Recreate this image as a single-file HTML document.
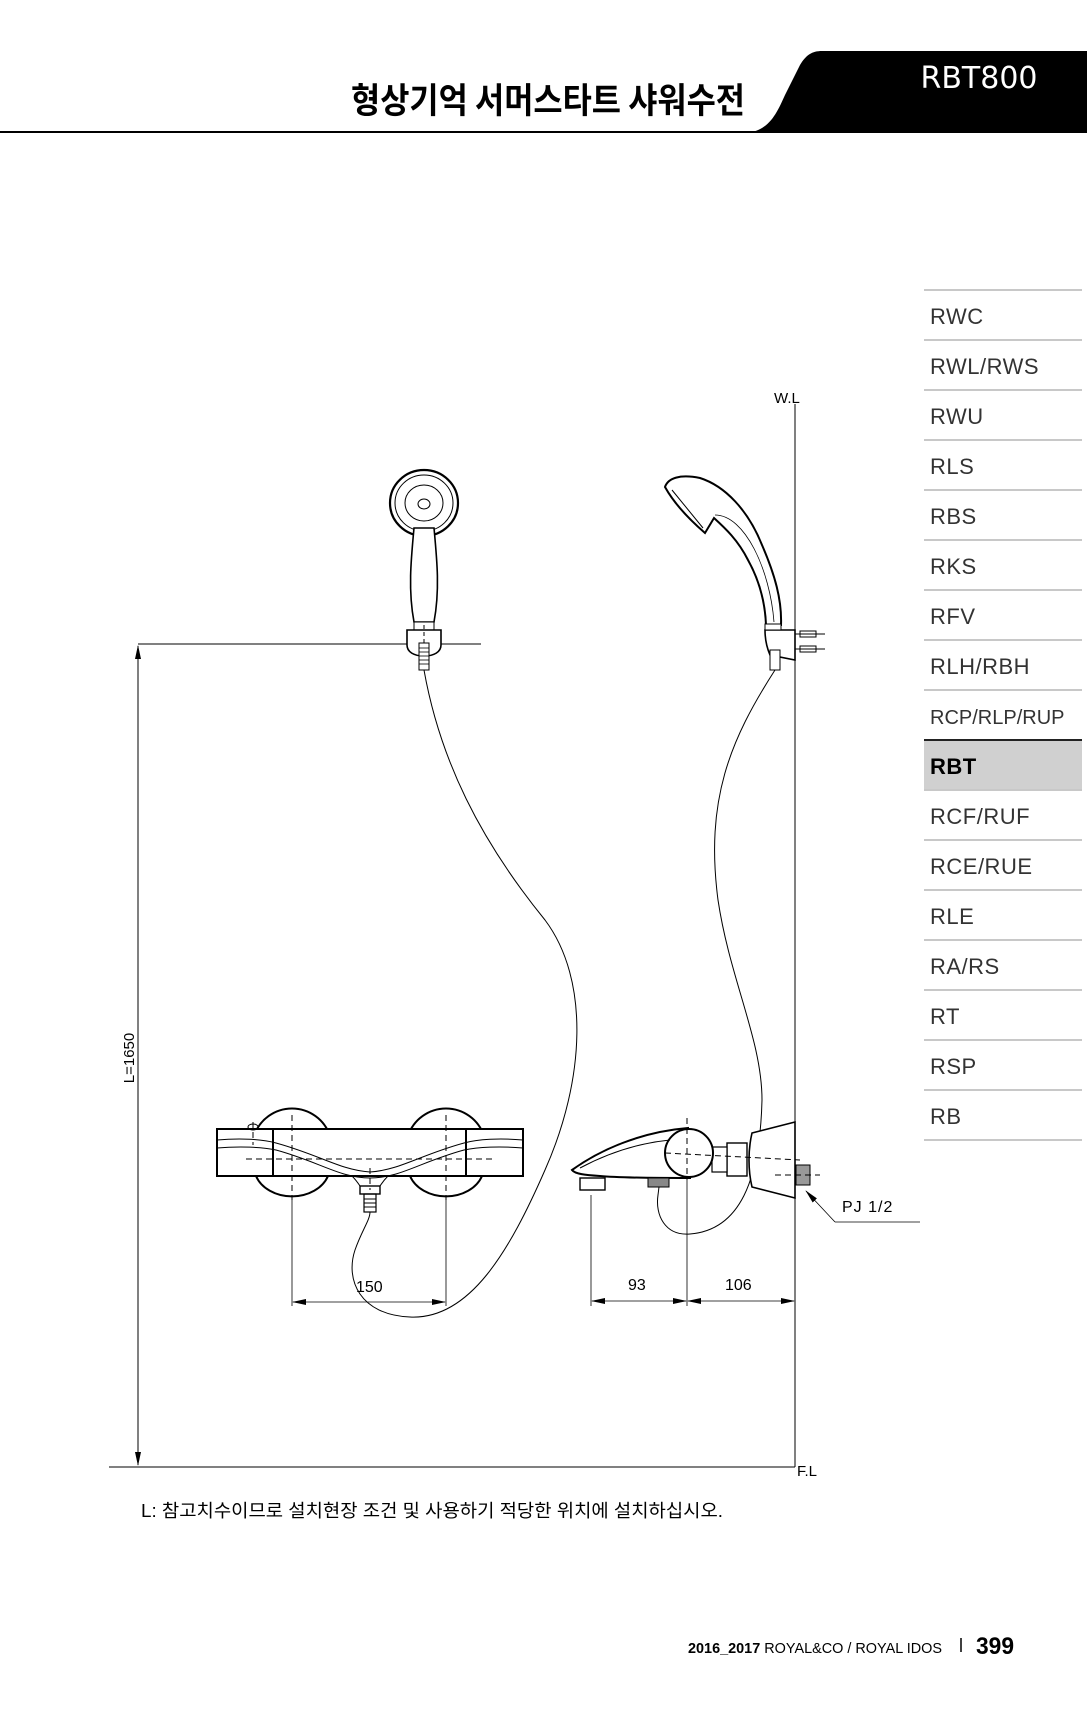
<!DOCTYPE html>
<html><head><meta charset="utf-8"><style>
html,body{margin:0;padding:0;background:#fff;}
svg{display:block;}
</style></head><body>
<svg width="1087" height="1713" viewBox="0 0 1087 1713" xmlns="http://www.w3.org/2000/svg" font-family="'Liberation Sans','Noto Sans CJK KR',sans-serif">
<defs>
<marker id="ar" markerWidth="14" markerHeight="8" refX="13" refY="4" orient="auto" markerUnits="userSpaceOnUse"><path d="M0,1 L14,4 L0,7 Z" fill="#000"/></marker>
<marker id="al" markerWidth="14" markerHeight="8" refX="1" refY="4" orient="auto" markerUnits="userSpaceOnUse"><path d="M14,1 L0,4 L14,7 Z" fill="#000"/></marker>
</defs>
<!-- header -->
<line x1="0" y1="132" x2="760" y2="132" stroke="#000" stroke-width="2"/>
<path d="M742,133 C768,133 776,115 785,95 L800,65 C806,55 812,51 822,51 L1087,51 L1087,133 Z" fill="#000"/>
<text x="351" y="113" textLength="394" lengthAdjust="spacingAndGlyphs" font-size="35" font-weight="bold" font-family="'Noto Sans CJK KR',sans-serif" fill="#000">형상기억 서머스타트 샤워수전</text>
<text x="979" y="88" text-anchor="middle" font-size="30" fill="#fff" font-family="'DejaVu Sans','Liberation Sans',sans-serif">RBT800</text>
<!-- sidebar -->
<rect x="924" y="740" width="158" height="50" fill="#d0d0d0"/>
<g stroke="#c8c8c8" stroke-width="2">
<line x1="924" y1="290" x2="1082" y2="290"/><line x1="924" y1="340" x2="1082" y2="340"/><line x1="924" y1="390" x2="1082" y2="390"/><line x1="924" y1="440" x2="1082" y2="440"/><line x1="924" y1="490" x2="1082" y2="490"/><line x1="924" y1="540" x2="1082" y2="540"/><line x1="924" y1="590" x2="1082" y2="590"/><line x1="924" y1="640" x2="1082" y2="640"/><line x1="924" y1="690" x2="1082" y2="690"/><line x1="924" y1="790" x2="1082" y2="790"/><line x1="924" y1="840" x2="1082" y2="840"/><line x1="924" y1="890" x2="1082" y2="890"/><line x1="924" y1="940" x2="1082" y2="940"/><line x1="924" y1="990" x2="1082" y2="990"/><line x1="924" y1="1040" x2="1082" y2="1040"/><line x1="924" y1="1090" x2="1082" y2="1090"/><line x1="924" y1="1140" x2="1082" y2="1140"/>
</g>
<line x1="924" y1="740" x2="1082" y2="740" stroke="#222" stroke-width="2"/>
<g font-size="22" fill="#333" letter-spacing="0.5">
<text x="930" y="324">RWC</text><text x="930" y="374">RWL/RWS</text><text x="930" y="424">RWU</text><text x="930" y="474">RLS</text><text x="930" y="524">RBS</text><text x="930" y="574">RKS</text><text x="930" y="624">RFV</text><text x="930" y="674">RLH/RBH</text><text x="930" y="724" font-size="20" letter-spacing="0">RCP/RLP/RUP</text><text x="930" y="774" font-weight="bold" fill="#000">RBT</text><text x="930" y="824">RCF/RUF</text><text x="930" y="874">RCE/RUE</text><text x="930" y="924">RLE</text><text x="930" y="974">RA/RS</text><text x="930" y="1024">RT</text><text x="930" y="1074">RSP</text><text x="930" y="1124">RB</text>
</g>
<!-- wall / floor -->
<g stroke="#000" fill="none" stroke-width="1">
<line x1="795" y1="404" x2="795" y2="1467"/>
<line x1="109" y1="1467" x2="795" y2="1467"/>
<line x1="138" y1="644" x2="481" y2="644"/>
<line x1="138" y1="646" x2="138" y2="1465" marker-start="url(#al)" marker-end="url(#ar)"/>
</g>
<text x="774" y="403" font-size="15">W.L</text>
<text x="797" y="1476" font-size="15">F.L</text>
<text transform="translate(134,1058) rotate(-90)" text-anchor="middle" font-size="15">L=1650</text>
<!-- left hand shower -->
<g stroke="#000" fill="#fff" stroke-width="1.6">
<ellipse cx="424" cy="503" rx="34" ry="33" stroke-width="2.2"/>
<ellipse cx="424" cy="503" rx="29" ry="28" stroke-width="1"/>
<ellipse cx="424" cy="503" rx="19" ry="18" stroke-width="1"/>
<ellipse cx="424" cy="504" rx="6" ry="5" stroke-width="1"/>
<path d="M414,528 C411,560 408,590 414,622 L434,622 C440,590 437,560 434,528 Z"/>
<rect x="414" y="622" width="20" height="8" stroke-width="1"/>
<path d="M407,630 L441,630 L441,645 C441,652 434,656 424,656 C414,656 407,652 407,645 Z"/>
<rect x="419" y="643" width="10" height="27" stroke-width="1"/>
</g>
<g stroke="#000" stroke-width="0.8"><line x1="419" y1="648" x2="429" y2="648"/><line x1="419" y1="652" x2="429" y2="652"/><line x1="419" y1="656" x2="429" y2="656"/><line x1="419" y1="660" x2="429" y2="660"/><line x1="419" y1="664" x2="429" y2="664"/></g>
<line x1="424" y1="625" x2="424" y2="645" stroke="#000" stroke-dasharray="4,3"/>
<!-- right hand shower -->
<g stroke="#000" fill="#fff" stroke-width="2">
<path d="M665,487 C668,478 680,474 700,478 C725,486 748,510 762,545 C775,575 782,600 781,625 L766,625 C765,600 758,578 748,560 C738,540 725,528 714,518 L705,533 C690,520 675,505 665,487 Z"/>
<path d="M765,630 L795,630 L795,660 L770,655 C767,648 765,640 765,630 Z" stroke-width="1.6"/>
<rect x="765" y="624" width="16" height="6" stroke-width="1"/>
<rect x="770" y="650" width="10" height="20" stroke-width="1"/>
</g>
<path d="M672,490 L703,528" stroke="#000" stroke-width="1" fill="none"/>
<path d="M715,515 C745,515 770,570 774,622" stroke="#000" stroke-width="0.8" fill="none"/>
<g stroke="#000" stroke-width="1" fill="none"><line x1="795" y1="634" x2="825" y2="634"/><line x1="795" y1="649" x2="825" y2="649"/><rect x="800" y="631" width="16" height="6"/><rect x="800" y="646" width="16" height="6"/></g>
<!-- hoses -->
<path d="M424,670 C440,760 480,840 545,920 C590,980 585,1080 545,1170 C510,1250 470,1320 410,1317 C360,1315 345,1280 355,1250 C362,1230 370,1220 370,1212" stroke="#000" fill="none" stroke-width="1"/>
<path d="M775,670 C730,740 705,800 718,900 C730,980 762,1040 762,1100 C760,1180 740,1230 690,1234 C665,1236 655,1215 658,1195 L659,1187" stroke="#000" fill="none" stroke-width="1"/>
<!-- front view body -->
<g stroke="#000" fill="#fff" stroke-width="2">
<path d="M254,1136 A40,40 0 0 1 330,1136"/>
<path d="M408,1136 A40,40 0 0 1 484,1136"/>
<path d="M256,1176 A38,30 0 0 0 328,1176"/>
<path d="M410,1176 A38,30 0 0 0 482,1176"/>
<rect x="217" y="1129" width="306" height="47"/>
<line x1="273" y1="1129" x2="273" y2="1176"/>
<line x1="466" y1="1129" x2="466" y2="1176"/>
</g>
<g stroke="#000" fill="none" stroke-width="1">
<path d="M217,1140 C240,1138 262,1139 276,1143 C320,1155 340,1170 370,1172 C400,1170 420,1155 464,1143 C478,1139 500,1138 523,1140"/>
<path d="M217,1148 C240,1146 262,1147 276,1150 C320,1162 340,1178 370,1178"/>
<path d="M523,1148 C500,1146 478,1147 464,1150 C420,1162 400,1178 370,1178"/>
<path d="M352,1176 C356,1180 358,1183 360,1186 L380,1186 C382,1183 384,1180 388,1176"/>
<rect x="360" y="1186" width="20" height="8" stroke-width="1.4"/>
<rect x="364" y="1194" width="12" height="18" stroke-width="1.2"/>
<line x1="364" y1="1199" x2="376" y2="1199"/><line x1="364" y1="1203" x2="376" y2="1203"/><line x1="364" y1="1207" x2="376" y2="1207"/>
<ellipse cx="253" cy="1127" rx="5" ry="3"/>
</g>
<g stroke="#000" stroke-width="1" stroke-dasharray="6,4" fill="none">
<line x1="246" y1="1159" x2="495" y2="1159"/>
<line x1="292" y1="1115" x2="292" y2="1200"/>
<line x1="446" y1="1115" x2="446" y2="1200"/>
<line x1="370" y1="1168" x2="370" y2="1190"/>
<line x1="253" y1="1122" x2="253" y2="1145"/>
</g>
<g stroke="#000" stroke-width="0.8" fill="none">
<line x1="292" y1="1200" x2="292" y2="1306"/>
<line x1="446" y1="1200" x2="446" y2="1306"/>
<line x1="293" y1="1302" x2="445" y2="1302" marker-start="url(#al)" marker-end="url(#ar)"/>
</g>
<text x="356" y="1292" font-size="16">150</text>
<!-- side view -->
<g stroke="#000" fill="#fff" stroke-width="2">
<path d="M795,1122 L795,1198 L752,1187 C748,1170 748,1150 752,1133 Z" stroke-width="1.6"/>
<rect x="727" y="1143" width="20" height="33" stroke-width="1.4"/>
<rect x="712" y="1147" width="15" height="25" stroke-width="1.2"/>
<path d="M572,1170 C600,1150 640,1132 688,1128 L690,1178 C660,1178 620,1178 600,1176 C585,1175 575,1174 572,1170 Z"/>
<circle cx="689" cy="1153" r="24"/>
<rect x="580" y="1178" width="25" height="12" stroke-width="1.4"/>
<rect x="648" y="1178" width="21" height="9" stroke-width="1" fill="#888"/>
<rect x="796" y="1165" width="14" height="20" stroke-width="1" fill="#999"/>
</g>
<path d="M580,1168 C610,1152 640,1143 670,1140" stroke="#000" stroke-width="1" fill="none"/>
<g stroke="#000" stroke-width="1" stroke-dasharray="6,4" fill="none">
<line x1="665" y1="1153" x2="800" y2="1160"/>
<line x1="775" y1="1175" x2="820" y2="1175"/>
<line x1="687" y1="1118" x2="687" y2="1180"/>
</g>
<g stroke="#000" stroke-width="0.8" fill="none">
<line x1="687" y1="1180" x2="687" y2="1306"/>
<line x1="591" y1="1195" x2="591" y2="1306"/>
<line x1="592" y1="1301" x2="686" y2="1301" marker-start="url(#al)" marker-end="url(#ar)"/>
<line x1="688" y1="1301" x2="794" y2="1301" marker-start="url(#al)" marker-end="url(#ar)"/>
<line x1="835" y1="1222" x2="920" y2="1222"/>
<line x1="835" y1="1222" x2="806" y2="1191" marker-end="url(#ar)"/>
</g>
<text x="628" y="1290" font-size="16">93</text>
<text x="725" y="1290" font-size="16">106</text>
<text x="842" y="1212" font-size="16" letter-spacing="1">PJ 1/2</text>
<!-- footnote -->
<text x="141" y="1517" font-size="18" textLength="582" lengthAdjust="spacingAndGlyphs">L: 참고치수이므로 설치현장 조건 및 사용하기 적당한 위치에 설치하십시오.</text>
<!-- footer -->
<text x="688" y="1653" font-size="15" textLength="254" lengthAdjust="spacingAndGlyphs"><tspan font-weight="bold">2016_2017</tspan> ROYAL&amp;CO / ROYAL IDOS</text>
<line x1="961" y1="1638" x2="961" y2="1652" stroke="#000" stroke-width="1.5"/>
<text x="976" y="1654" font-size="24" font-weight="bold" textLength="38" lengthAdjust="spacingAndGlyphs">399</text>
</svg>
</body></html>
